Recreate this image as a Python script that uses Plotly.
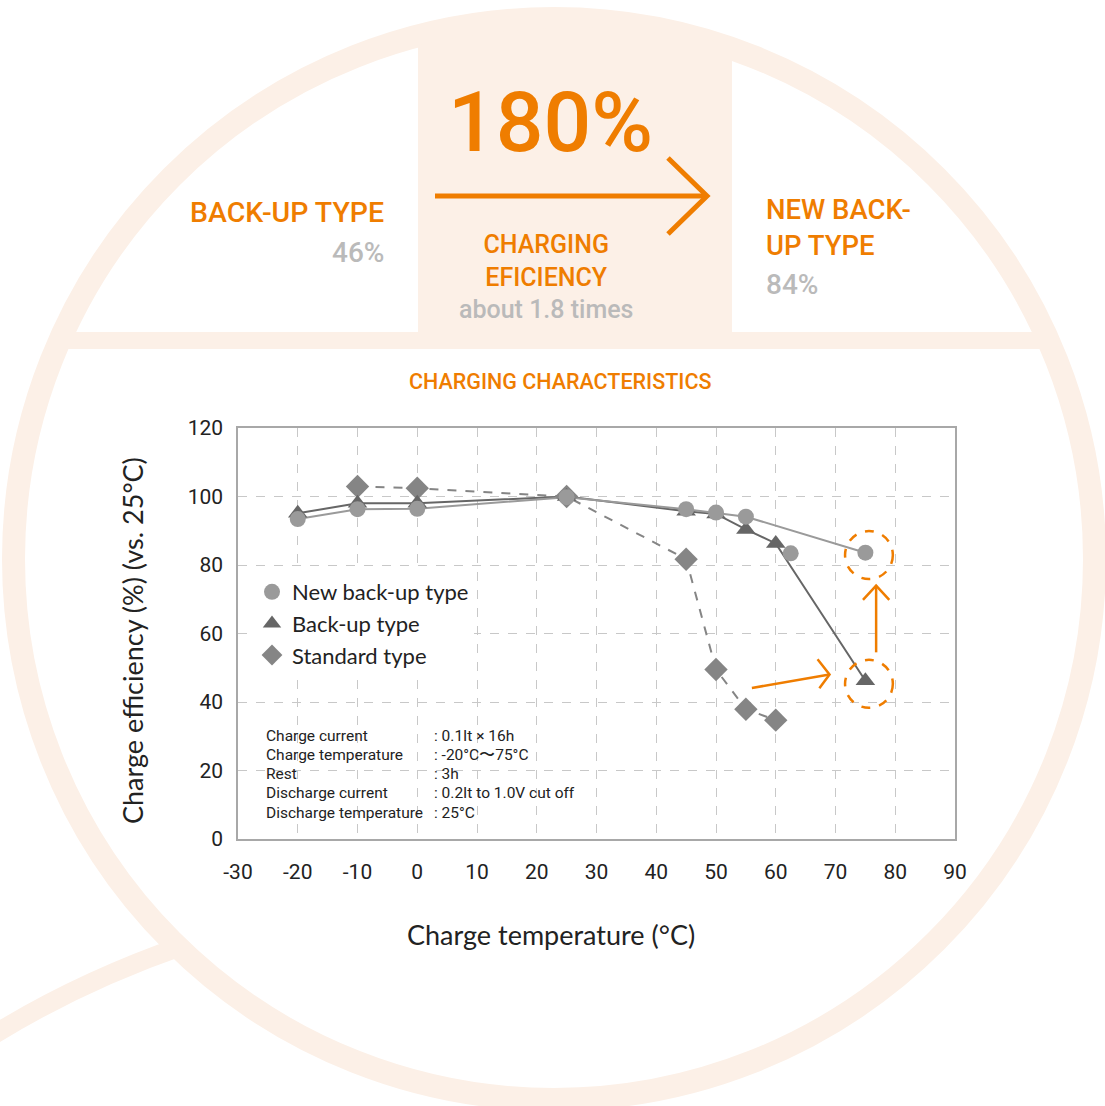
import plotly.graph_objects as go

# ---------------- data ----------------
temp_new = [-20, -10, 0, 25, 45, 50, 55, 75]
eff_new = [93.4, 96.3, 96.4, 99.8, 96.3, 95.3, 94.1, 83.6]
temp_new_extra = [62.5]
eff_new_extra = [83.4]

temp_backup = [-20, -10, 0, 25, 45, 50, 55, 60, 75]
eff_backup = [95.1, 98.0, 98.0, 100.0, 95.7, 94.9, 90.4, 86.3, 46.2]

temp_std = [-10, 0, 25, 45, 50, 55, 60]
eff_std = [102.9, 102.4, 100.0, 81.7, 49.5, 37.9, 34.7]

series_names = ["New back-up type", "Back-up type", "Standard type"]
x_ticks = list(range(-30, 91, 10))
y_ticks = list(range(0, 121, 20))

cond_labels = ["Charge current", "Charge temperature", "Rest",
               "Discharge current", "Discharge temperature"]
cond_values = [": 0.1It × 16h", ": -20°C〜75°C", ": 3h",
               ": 0.2It to 1.0V cut off", ": 25°C"]

# ---------------- style ----------------
ORANGE = "#ef7d00"
PEACH = "#fcf0e7"
GRAY_TXT = "#bababa"
C_NEW = "#9a9a9a"
C_BU = "#666666"
C_STD = "#858585"
HEAD_FONT = "Roboto, sans-serif"
BODY_FONT = "Roboto, Noto Sans, sans-serif"
LEG_FONT = "Lato, Noto Sans, sans-serif"

W, H = 1105, 1106
PL, PR, PT, PB = 238, 955, 428, 839  # plot area in pixels


def px(x):
    return (x - PL) / (PR - PL)


def py(y):
    return (PB - y) / (PB - PT)


fig = go.Figure()

# lines
fig.add_trace(go.Scatter(x=temp_std, y=eff_std, mode="lines",
                         line=dict(color=C_STD, width=2, dash="dash"),
                         showlegend=False, hoverinfo="skip"))
fig.add_trace(go.Scatter(x=temp_backup, y=eff_backup, mode="lines",
                         line=dict(color=C_BU, width=2),
                         showlegend=False, hoverinfo="skip"))
fig.add_trace(go.Scatter(x=temp_new, y=eff_new, mode="lines",
                         line=dict(color=C_NEW, width=2),
                         showlegend=False, hoverinfo="skip"))
# markers
fig.add_trace(go.Scatter(x=temp_std, y=eff_std, mode="markers", name=series_names[2],
                         marker=dict(symbol="diamond", size=18, color=C_STD),
                         legendrank=3))
fig.add_trace(go.Scatter(x=temp_backup, y=eff_backup, mode="markers", name=series_names[1],
                         marker=dict(symbol="triangle-up", size=17, color=C_BU),
                         legendrank=2))
fig.add_trace(go.Scatter(x=temp_new, y=eff_new, mode="markers", name=series_names[0],
                         marker=dict(symbol="circle", size=16, color=C_NEW),
                         legendrank=1))
fig.add_trace(go.Scatter(x=temp_new_extra, y=eff_new_extra, mode="markers",
                         marker=dict(symbol="circle", size=16, color=C_NEW),
                         showlegend=False))

shapes = []
# background ring
cx, cy, r = 554, 559, 540.5
shapes.append(dict(type="circle", xref="paper", yref="paper",
                   x0=px(cx - r), x1=px(cx + r), y0=py(cy + r), y1=py(cy - r),
                   line=dict(color=PEACH, width=23), layer="below"))
# horizontal band
shapes.append(dict(type="rect", xref="paper", yref="paper",
                   x0=px(55), x1=px(1052), y0=py(349), y1=py(332),
                   fillcolor=PEACH, line=dict(width=0), layer="below"))
# center block (top follows the ring)
shapes.append(dict(type="path", xref="paper", yref="paper",
                   path=(f"M {px(418)},{py(340)} L {px(418)},{py(45)} "
                         f"Q {px(575)},{py(10)} {px(732)},{py(45)} "
                         f"L {px(732)},{py(340)} Z"),
                   fillcolor=PEACH, line=dict(width=0), layer="below"))
# lower-left arc
shapes.append(dict(type="path", xref="paper", yref="paper",
                   path=f"M {px(-5)},{py(1034)} Q {px(81)},{py(981)} {px(185)},{py(945)}",
                   line=dict(color=PEACH, width=19), layer="below"))
# big arrow at top
shapes.append(dict(type="line", xref="paper", yref="paper",
                   x0=px(435), x1=px(705), y0=py(196), y1=py(196),
                   line=dict(color=ORANGE, width=5)))
shapes.append(dict(type="path", xref="paper", yref="paper",
                   path=f"M {px(668)},{py(158)} L {px(707)},{py(196)} L {px(668)},{py(234)}",
                   line=dict(color=ORANGE, width=5)))
# white box behind test conditions
shapes.append(dict(type="rect", xref="paper", yref="paper",
                   x0=px(255), x1=px(590), y0=py(838), y1=py(718),
                   fillcolor="white", line=dict(width=0), layer="between"))
# orange dashed circles around the 75 °C points
for (ccx, ccy) in [(75.6, 82.9), (75.6, 45.3)]:
    shapes.append(dict(type="circle", xref="x", yref="y",
                       x0=ccx - 4.0, x1=ccx + 4.0, y0=ccy - 7.0, y1=ccy + 7.0,
                       line=dict(color=ORANGE, width=2.5, dash="dash")))
# orange arrows inside plot
shapes.append(dict(type="path", xref="x", yref="y",
                   path="M 76.8,54.5 L 76.8,74.0",
                   line=dict(color=ORANGE, width=2.5)))
shapes.append(dict(type="path", xref="x", yref="y",
                   path="M 74.6,69.8 L 76.8,74.0 L 79.0,69.8",
                   line=dict(color=ORANGE, width=2.5)))
shapes.append(dict(type="path", xref="x", yref="y",
                   path="M 56.0,44.1 L 69.0,48.0",
                   line=dict(color=ORANGE, width=2.5)))
shapes.append(dict(type="path", xref="x", yref="y",
                   path="M 67.0,52.5 L 69.0,48.0 L 67.3,44.0",
                   line=dict(color=ORANGE, width=2.5)))

annotations = []


def head(text, x, y, size, color, xanchor="center", weight=500):
    annotations.append(dict(text=text, x=px(x), y=py(y), xref="paper", yref="paper",
                            xanchor=xanchor, yanchor="middle", showarrow=False,
                            align=xanchor if xanchor != "center" else "center",
                            font=dict(family=HEAD_FONT, size=size, color=color,
                                      weight=weight)))


head("180%", 550, 122, 84, ORANGE)
head("BACK-UP TYPE", 386, 212, 28.5, ORANGE, xanchor="right")
head("46%", 386, 252, 28, GRAY_TXT, xanchor="right")
head(f"CHARGING<br>EFICIENCY<br><span style='color:{GRAY_TXT}'>about 1.8 times</span>",
     546, 277, 25, ORANGE)
head("NEW BACK-<br>UP TYPE", 764, 228, 27.5, ORANGE, xanchor="left")
head("84%", 764, 284, 28, GRAY_TXT, xanchor="left")
head("CHARGING CHARACTERISTICS", 560, 382, 21.5, ORANGE)

row_y = [736, 755, 774, 793, 813]
for lab, val, yy in zip(cond_labels, cond_values, row_y):
    annotations.append(dict(text=lab, x=px(264), y=py(yy), xref="paper", yref="paper",
                            xanchor="left", yanchor="middle", showarrow=False,
                            font=dict(family=BODY_FONT, size=15.5, color="#222222")))
    annotations.append(dict(text=val, x=px(432), y=py(yy), xref="paper", yref="paper",
                            xanchor="left", yanchor="middle", showarrow=False,
                            font=dict(family=BODY_FONT, size=15.5, color="#222222")))

# axis titles (positioned as in the original)
annotations.append(dict(text="Charge temperature (°C)", x=px(551), y=py(934),
                        xref="paper", yref="paper", xanchor="center", yanchor="middle",
                        showarrow=False,
                        font=dict(family=LEG_FONT, size=27, color="#222222")))
annotations.append(dict(text="Charge efficiency (%) (vs. 25°C)", x=px(132), y=py(641),
                        xref="paper", yref="paper", xanchor="center", yanchor="middle",
                        showarrow=False, textangle=-90,
                        font=dict(family=LEG_FONT, size=27, color="#222222")))

fig.update_layout(
    width=W, height=H, autosize=False,
    margin=dict(l=PL, r=W - PR, t=PT, b=H - PB, pad=0),
    paper_bgcolor="white", plot_bgcolor="white",
    shapes=shapes, annotations=annotations,
    showlegend=True,
    legend=dict(x=px(252), y=py(571), xanchor="left", yanchor="top",
                bgcolor="white", borderwidth=0,
                font=dict(family=LEG_FONT, size=22, color="#222222"),
                itemwidth=30, tracegroupgap=0),
    font=dict(family=BODY_FONT, color="#222222"),
)

fig.update_xaxes(range=[-30, 90], tickvals=x_ticks, ticktext=[str(v) for v in x_ticks],
                 showgrid=True, gridcolor="#c8c8c8", griddash="dash", gridwidth=1,
                 zeroline=False, showline=True, linecolor="#a8a8a8", linewidth=1.5,
                 mirror=True, ticks="", tickfont=dict(family=BODY_FONT, size=21, color="#222222"),
                 ticklabelstandoff=13)
fig.update_yaxes(range=[0, 120], tickvals=y_ticks, ticktext=[str(v) for v in y_ticks],
                 showgrid=True, gridcolor="#c8c8c8", griddash="dash", gridwidth=1,
                 zeroline=False, showline=True, linecolor="#a8a8a8", linewidth=1.5,
                 mirror=True, ticks="", tickfont=dict(family=BODY_FONT, size=21, color="#222222"),
                 ticklabelstandoff=9)

fig.write_html("out.html")
